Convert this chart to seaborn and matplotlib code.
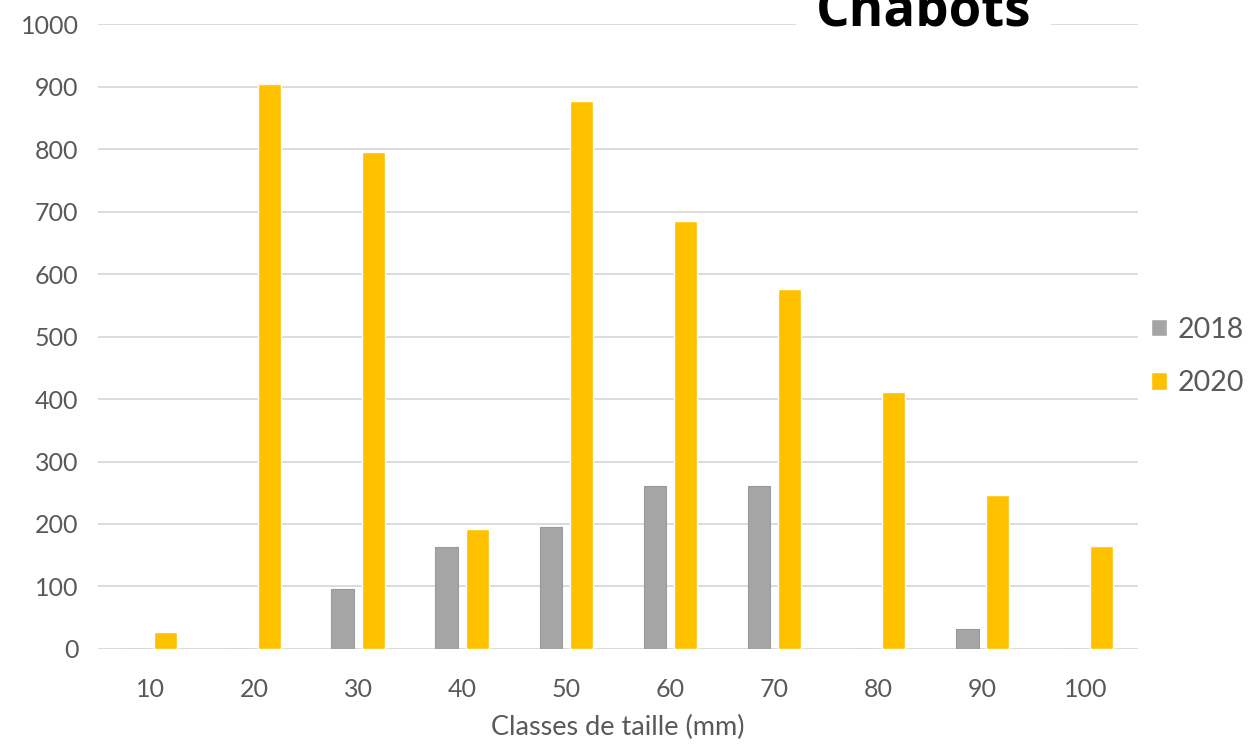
import matplotlib
matplotlib.use("Agg")
import matplotlib.pyplot as plt
import seaborn as sns
import pandas as pd

classes = ["10", "20", "30", "40", "50", "60", "70", "80", "90", "100"]
vals_2018 = [0, 0, 96, 163, 195, 261, 261, 0, 32, 0]
vals_2020 = [27, 904, 795, 192, 877, 685, 576, 411, 246, 165]
years = ["2018", "2020"]

df = pd.DataFrame({
    "classe": classes * 2,
    "valeur": vals_2018 + vals_2020,
    "annee": [years[0]] * len(classes) + [years[1]] * len(classes),
})

sns.set_theme(style="white")
plt.rcParams["font.family"] = ["Lato", "DejaVu Sans"]

fig = plt.figure(figsize=(12.48, 7.44), dpi=100)
ax = fig.add_axes([0.0785, 0.1277, 0.912 - 0.0785, 0.9677 - 0.1277])

sns.barplot(data=df, x="classe", y="valeur", hue="annee", order=classes,
            hue_order=years, palette={"2018": "#A5A5A5", "2020": "#FFC000"},
            width=0.58, gap=0.24, saturation=1, ax=ax, legend=True)

for bar in ax.patches[:len(classes)]:
    bar.set_edgecolor("#9A9A9A")
    bar.set_linewidth(0.8)

ax.set_ylim(0, 1000)
ax.set_xlim(-0.5, len(classes) - 0.5)
ax.set_yticks(range(0, 1001, 100))
ax.yaxis.grid(True, color="#D9D9D9", linewidth=1.3)
ax.set_axisbelow(True)
for s in ax.spines.values():
    s.set_visible(False)
ax.tick_params(axis="both", length=0, labelsize=18, colors="#595959")
ax.tick_params(axis="y", pad=14)
ax.tick_params(axis="x", pad=21)
ax.set_ylabel("")
ax.set_xlabel("Classes de taille (mm)", fontsize=19.5, color="#595959", labelpad=10)

leg = ax.legend(loc="center left", bbox_to_anchor=(1.0, 0.468), frameon=False,
                fontsize=20.5, handlelength=0.55, handleheight=0.55, handletextpad=0.4,
                labelspacing=0.95, labelcolor="#595959", borderpad=0, borderaxespad=0.45)

fig.text(0.740, 0.966, "Chabots", fontsize=38, fontweight="bold", color="black",
         ha="center", va="baseline", family=["Open Sans", "DejaVu Sans"],
         bbox=dict(facecolor="white", edgecolor="none", pad=14))

fig.savefig("out.png", dpi=100)
